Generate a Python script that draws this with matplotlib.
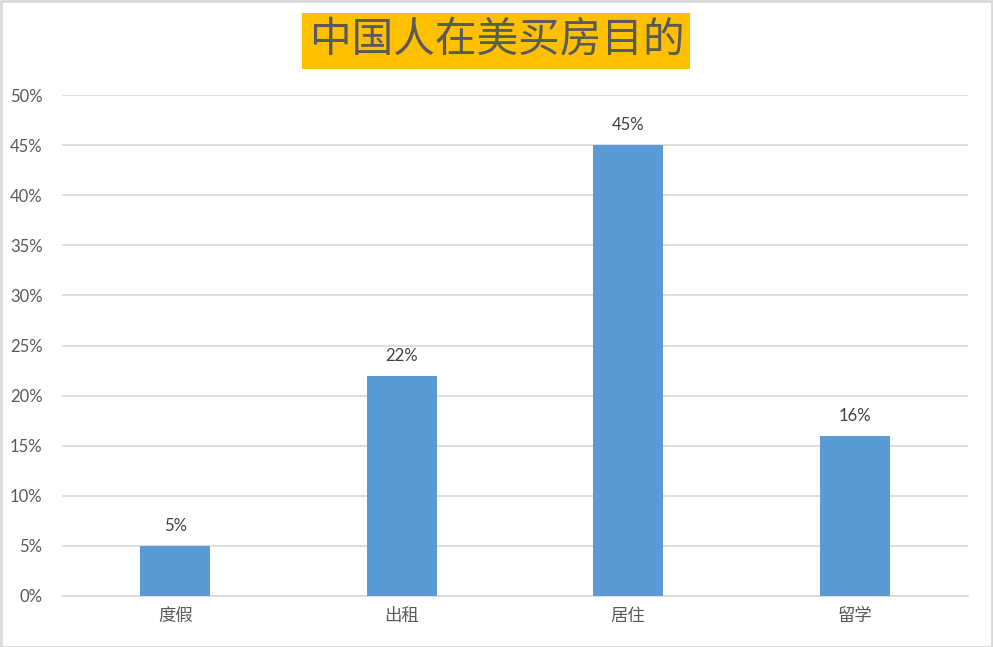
import matplotlib
matplotlib.use("Agg")
import matplotlib.pyplot as plt
from matplotlib.patches import Rectangle
from matplotlib.ticker import PercentFormatter

plt.rcParams['font.family'] = ['Noto Sans CJK SC', 'DejaVu Sans']

# data
categories = ['度假', '出租', '居住', '留学']
shares = [0.05, 0.22, 0.45, 0.16]
y_ticks = [0, 0.05, 0.10, 0.15, 0.20, 0.25, 0.30, 0.35, 0.40, 0.45, 0.50]

W, H = 993, 647
fig = plt.figure(figsize=(W / 100, H / 100), dpi=100)
ax = fig.add_axes([62 / W, 1 - 596 / H, (968 - 62) / W, (596 - 95) / H])

x = range(len(categories))
bars = ax.bar(x, shares, width=0.31, color='#5B9BD5', zorder=3)

for b, v in zip(bars, shares):
    ax.text(b.get_x() + b.get_width() / 2, v + 0.012, f'{v:.0%}',
            ha='center', va='bottom', fontsize=12, color='#404040',
            family='Lato')

ax.set_xlim(-0.5, len(categories) - 0.5)
ax.set_ylim(0, 0.5)
ax.set_yticks(y_ticks)
ax.yaxis.set_major_formatter(PercentFormatter(1.0, decimals=0))
ax.set_xticks(list(x), labels=categories)
ax.tick_params(axis='y', length=0, pad=14, labelsize=12, labelcolor='#595959')
ax.tick_params(axis='x', length=0, pad=8, labelsize=12.5, labelcolor='#595959')
for lab in ax.get_yticklabels():
    lab.set_family('Lato')
ax.yaxis.grid(True, color='#d9d9d9', linewidth=1.2, zorder=0)

for side in ['top', 'right', 'left']:
    ax.spines[side].set_visible(False)
ax.spines['bottom'].set_color('#d9d9d9')
ax.spines['bottom'].set_linewidth(1.2)

# title with gold box
fig.patches.append(Rectangle((302 / W, 1 - 69 / H), (690 - 302) / W, (69 - 13) / H,
                             transform=fig.transFigure, facecolor='#FFC000',
                             edgecolor='none', zorder=1))
fig.text(497 / W, 1 - 40 / H, '中国人在美买房目的', ha='center', va='center',
         fontsize=30, color='#5a5a5a', zorder=2)

# outer border
fig.patches.append(Rectangle((0.5 / W, 0.5 / H), 1 - 1.5 / W, 1 - 1.5 / H,
                             transform=fig.transFigure, facecolor='none',
                             edgecolor='#d9d9d9', linewidth=2))

fig.savefig('out.png', dpi=100)
